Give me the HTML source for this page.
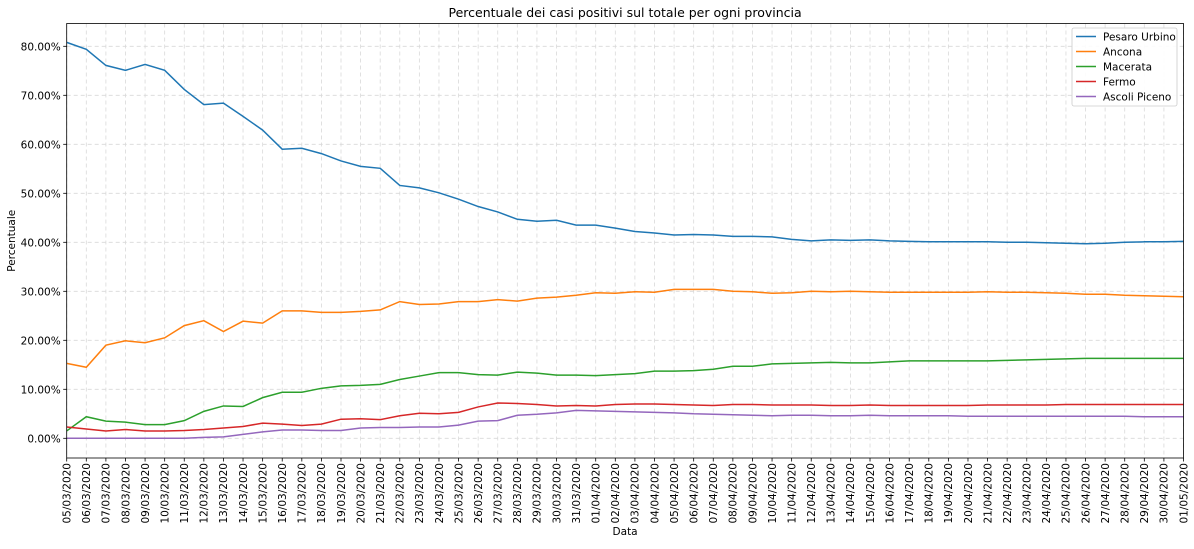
<!DOCTYPE html>
<html><head><meta charset="utf-8"><style>
body{margin:0;background:#fff;font-family:"Liberation Sans","DejaVu Sans",sans-serif;}
svg text{font-family:"DejaVu Sans","Liberation Sans",sans-serif;}
</style></head><body>
<svg id="chart" width="1194" height="544" xmlns="http://www.w3.org/2000/svg"></svg>
<script>
const dates=[];
for(let d=5;d<=31;d++)dates.push(String(d).padStart(2,'0')+'/03/2020');
for(let d=1;d<=30;d++)dates.push(String(d).padStart(2,'0')+'/04/2020');
dates.push('01/05/2020');
const seriesNames=['Pesaro Urbino','Ancona','Macerata','Fermo','Ascoli Piceno'];
const colors=['#1f77b4','#ff7f0e','#2ca02c','#d62728','#9467bd'];
const pesaro=[80.8,79.4,76.1,75.1,76.3,75.1,71.2,68.1,68.4,65.7,62.9,59.0,59.2,58.1,56.6,55.5,55.1,51.6,51.1,50.1,48.8,47.3,46.2,44.7,44.3,44.5,43.5,43.5,42.9,42.2,41.9,41.5,41.6,41.5,41.2,41.2,41.1,40.6,40.3,40.5,40.4,40.5,40.3,40.2,40.1,40.1,40.1,40.1,40.0,40.0,39.9,39.8,39.7,39.8,40.0,40.1,40.1,40.2];
const ancona=[15.3,14.5,19.0,19.9,19.5,20.5,23.0,24.0,21.8,23.9,23.5,26.0,26.0,25.7,25.7,25.9,26.2,27.9,27.3,27.4,27.9,27.9,28.3,28.0,28.6,28.8,29.2,29.7,29.6,29.9,29.8,30.4,30.4,30.4,30.0,29.9,29.6,29.7,30.0,29.9,30.0,29.9,29.8,29.8,29.8,29.8,29.8,29.9,29.8,29.8,29.7,29.6,29.4,29.4,29.2,29.1,29.0,28.9];
const macerata=[1.5,4.4,3.5,3.3,2.8,2.8,3.6,5.5,6.6,6.5,8.3,9.4,9.4,10.2,10.7,10.8,11.0,12.0,12.7,13.4,13.4,13.0,12.9,13.5,13.3,12.9,12.9,12.8,13.0,13.2,13.7,13.7,13.8,14.1,14.7,14.7,15.2,15.3,15.4,15.5,15.4,15.4,15.6,15.8,15.8,15.8,15.8,15.8,15.9,16.0,16.1,16.2,16.3,16.3,16.3,16.3,16.3,16.3];
const fermo=[2.3,1.9,1.5,1.8,1.5,1.5,1.6,1.8,2.1,2.4,3.1,2.9,2.6,2.9,3.9,4.0,3.8,4.6,5.1,5.0,5.3,6.4,7.2,7.1,6.9,6.6,6.7,6.6,6.9,7.0,7.0,6.9,6.8,6.7,6.9,6.9,6.8,6.8,6.8,6.7,6.7,6.8,6.7,6.7,6.7,6.7,6.7,6.8,6.8,6.8,6.8,6.9,6.9,6.9,6.9,6.9,6.9,6.9];
const ascoli=[0,0,0,0,0,0,0,0.2,0.3,0.8,1.3,1.7,1.7,1.6,1.6,2.1,2.2,2.2,2.3,2.3,2.7,3.5,3.6,4.7,4.9,5.2,5.7,5.6,5.5,5.4,5.3,5.2,5.0,4.9,4.8,4.7,4.6,4.7,4.7,4.6,4.6,4.7,4.6,4.6,4.6,4.6,4.5,4.5,4.5,4.5,4.5,4.5,4.5,4.5,4.5,4.4,4.4,4.4];
const seriesData=[pesaro,ancona,macerata,fermo,ascoli];
const yTicks=[0,10,20,30,40,50,60,70,80];

const NS='http://www.w3.org/2000/svg';
const svg=document.getElementById('chart');
const L=66.7,R=1183.5,T=23.5,B=458;
const xS=i=>L+(R-L)*i/(dates.length-1);
const yS=v=>438.3-v*4.9;
function mk(tag,attrs,parent){const e=document.createElementNS(NS,tag);for(const k in attrs)e.setAttribute(k,attrs[k]);(parent||svg).appendChild(e);return e;}

const grid=mk('g',{});


dates.forEach((d,i)=>{
  const x=xS(i);
  mk('line',{x1:x,x2:x,y1:T,y2:B,stroke:'#d9d9d9','stroke-dasharray':'4,3','stroke-width':0.8},grid);
  mk('line',{x1:x,x2:x,y1:B,y2:B+3.5,stroke:'#000','stroke-width':0.8});
  const t=mk('text',{x:0,y:0,'font-size':'10.5',fill:'#000','text-anchor':'end',transform:`translate(${x+3.8},${B+5}) rotate(-90)`});
  t.textContent=d;
  
  
});
yTicks.forEach(v=>{
  const y=yS(v);
  mk('line',{x1:L,x2:R,y1:y,y2:y,stroke:'#d9d9d9','stroke-dasharray':'4,3','stroke-width':0.8},grid);
  mk('line',{x1:L-3.5,x2:L,y1:y,y2:y,stroke:'#000','stroke-width':0.8});
  const t=mk('text',{x:L-6,y:y+4,'font-size':'10.5',fill:'#000','text-anchor':'end'});
  t.textContent=v.toFixed(2)+'%';
  
  
});
seriesData.forEach((arr,s)=>{
  const p=mk('polyline',{points:arr.map((v,i)=>xS(i)+','+yS(v)).join(' '),fill:'none',stroke:colors[s],'stroke-width':1.5});
  
  
});
const frame=mk('rect',{x:L,y:T,width:R-L,height:B-T,fill:'none',stroke:'#000','stroke-width':0.8});



const title=mk('text',{x:(L+R)/2,y:17,'font-size':'12.5','text-anchor':'middle',fill:'#000'});
title.textContent='Percentuale dei casi positivi sul totale per ogni provincia';


const xt=mk('text',{x:(L+R)/2,y:535,'font-size':'10.5','text-anchor':'middle',fill:'#000'});
xt.textContent='Data';


const yt=mk('text',{x:0,y:0,'font-size':'10.5','text-anchor':'middle',fill:'#000',transform:`translate(15,${(T+B)/2}) rotate(-90)`});
yt.textContent='Percentuale';



const leg=mk('g',{});


mk('rect',{x:1072,y:28,width:105,height:78,rx:2,fill:'#fff',stroke:'#ccc','stroke-width':0.8,'fill-opacity':0.9},leg);
seriesNames.forEach((n,s)=>{
  const y=36.5+s*15;
  mk('line',{x1:1076,x2:1096,y1:y,y2:y,stroke:colors[s],'stroke-width':1.5},leg);
  const t=mk('text',{x:1103,y:y+4,'font-size':'10.5',fill:'#000'},leg);
  t.textContent=n;
  
  
});
</script>
</body></html>
